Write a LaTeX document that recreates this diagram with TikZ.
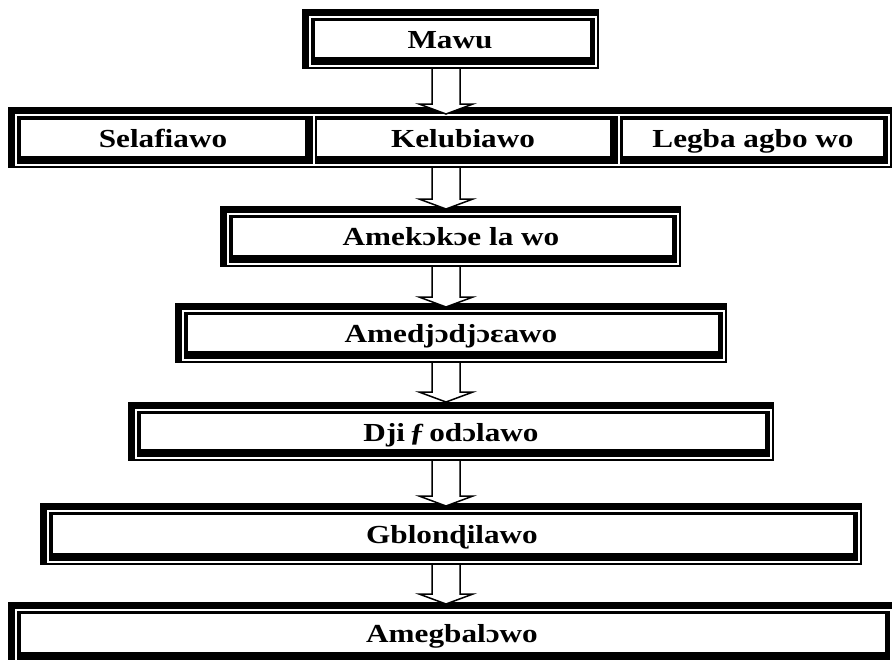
\documentclass[tikz,border=0pt]{standalone}
\usepackage{fontspec}
\setmainfont{Liberation Serif}[FakeStretch=1.2]
\usetikzlibrary{calc}
\tikzset{
  lbl/.style={font=\bfseries\fontsize{26}{30}\selectfont, anchor=base, inner sep=0pt},
  arrowline/.style={draw=black, fill=white, line width=1.5pt, line join=miter},
  frameblack/.style={fill=black},
  whiteline/.style={draw=white, line width=1.3pt},
  interior/.style={fill=white}
}
% outer frame: left, top, right, bottom (pixel coordinates, y downwards)
\newcommand\myouterbox[4]{%
  \fill[frameblack] (#1,#2) rectangle (#3,#4);
  \draw[whiteline] ({#1+8},{#2+8}) rectangle ({#3-3},{#4-3});
}
\newcommand\myinner[4]{\fill[interior] (#1,#2) rectangle (#3,#4);}
\newcommand\myframed[4]{%
  \myouterbox{#1}{#2}{#3}{#4}%
  \myinner{#1+13}{#2+12}{#3-9}{#4-12}%
}
% block arrow from start coordinate #1 to tip coordinate #2
\newcommand\blockarr[2]{%
  \draw[arrowline] let \p1=(#1), \p2=(#2) in
    (\x1-14pt,\y1) -- (\x1-14pt,\y2+10pt) -- (\x1-27pt,\y2+10pt) -- (\x2,\y2)
    -- (\x1+27pt,\y2+10pt) -- (\x1+14pt,\y2+10pt) -- (\x1+14pt,\y1);
}
\begin{document}
\begin{tikzpicture}[x=1pt,y=-1pt]
\useasboundingbox (0,0) rectangle (892,659);
\clip (0,0) rectangle (892,659);
\fill[white] (0,0) rectangle (892,659);

% Mawu
\myframed{302}{9}{599}{69}
\node[lbl] (mawu) at (450,48) {Mawu};

% row of three
\myouterbox{8}{107}{892}{168}
\draw[whiteline] (314,115) -- (314,165);
\draw[whiteline] (619,115) -- (619,165);
\myinner{21}{120}{305}{156}
\myinner{317}{120}{610}{156}
\myinner{623}{120}{883}{156}
\node[lbl] (sela) at (163,147) {Selafiawo};
\node[lbl] (kelu) at (463,147) {Kelubiawo};
\node[lbl] (legba) at (753,147) {Legba agbo wo};

% Amekɔkɔe la wo
\myframed{220}{206}{681}{267}
\node[lbl] (ameko) at (451,245) {Amekɔkɔe la wo};

% Amedjɔdjɔɛawo
\myframed{175}{303}{727}{363}
\node[lbl] (amedj) at (451,342) {Amedjɔdjɔɛawo};

% Djiƒodɔlawo
\myframed{128}{402}{774}{461}
\node[lbl] (dji) at (451,441) {Dji\,ƒ\,odɔlawo};

% Gblonɖilawo
\myframed{40}{503}{862}{565}
\node[lbl] (gblo) at (452,543) {Gblonɖilawo};

% Amegbalɔwo
\myframed{8}{602}{894}{664}
\node[lbl] (amegb) at (452,642) {Amegbalɔwo};

% connectors
\coordinate (a1s) at (446,69);  \coordinate (a1t) at (446,114);
\coordinate (a2s) at (446,168); \coordinate (a2t) at (446,209);
\coordinate (a3s) at (446,267); \coordinate (a3t) at (446,307);
\coordinate (a4s) at (446,363); \coordinate (a4t) at (446,402);
\coordinate (a5s) at (446,461); \coordinate (a5t) at (446,506);
\coordinate (a6s) at (446,565); \coordinate (a6t) at (446,604);
\blockarr{a1s}{a1t}
\blockarr{a2s}{a2t}
\blockarr{a3s}{a3t}
\blockarr{a4s}{a4t}
\blockarr{a5s}{a5t}
\blockarr{a6s}{a6t}
\end{tikzpicture}
\end{document}
